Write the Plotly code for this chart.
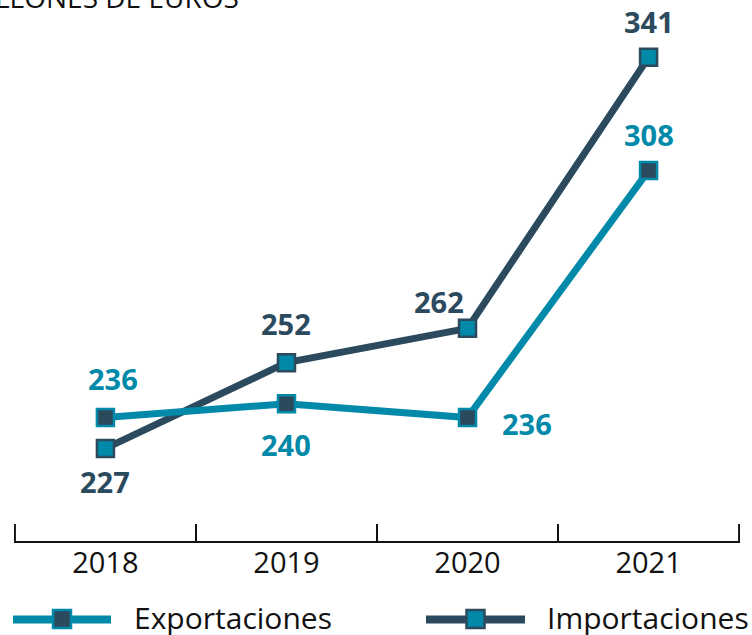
import plotly.graph_objects as go

years = ["2018", "2019", "2020", "2021"]
exportaciones = [236, 240, 236, 308]
importaciones = [227, 252, 262, 341]

TEAL = "#0089A8"
DARK = "#2C4A5E"
FONT = "Open Sans"

# label offsets (pixels) relative to each point
exp_shift = [(8, 39), (0, -41), (59, -6), (0, 36)]
imp_shift = [(0, -33), (0, 39), (-29, 27), (0, 36)]

fig = go.Figure()
fig.add_trace(go.Scatter(x=years, y=importaciones, mode="lines",
                         line=dict(color=DARK, width=7), showlegend=False, hoverinfo="skip"))
fig.add_trace(go.Scatter(x=years, y=exportaciones, mode="lines",
                         line=dict(color=TEAL, width=7), showlegend=False, hoverinfo="skip"))
fig.add_trace(go.Scatter(x=years, y=importaciones, mode="markers", name="Importaciones",
                         marker=dict(symbol="square", size=17, color=TEAL,
                                     line=dict(color=DARK, width=2.5)), showlegend=False))
fig.add_trace(go.Scatter(x=years, y=exportaciones, mode="markers", name="Exportaciones",
                         marker=dict(symbol="square", size=17, color=DARK,
                                     line=dict(color=TEAL, width=2.5)), showlegend=False))

annotations = []
for i, (v, (dx, dy)) in enumerate(zip(exportaciones, exp_shift)):
    annotations.append(dict(x=i, y=v, xref="x", yref="y", text=f"<b>{v}</b>", showarrow=False,
                            xshift=dx, yshift=dy, font=dict(family=FONT, size=29, color=TEAL)))
for i, (v, (dx, dy)) in enumerate(zip(importaciones, imp_shift)):
    annotations.append(dict(x=i, y=v, xref="x", yref="y", text=f"<b>{v}</b>", showarrow=False,
                            xshift=dx, yshift=dy, font=dict(family=FONT, size=29, color=DARK)))

# unit title (partly cut off at the top-left in the reference)
annotations.append(dict(x=(241 - 14) / 726, y=1.0, xref="paper", yref="paper",
                        xanchor="right", yanchor="bottom", yshift=2,
                        text="MILLONES DE EUROS", showarrow=False,
                        font=dict(family=FONT, size=28, color="#111111")))

# manual legend
W, H = 752, 635
L, R, T, B = 14, 12, 20, 94
pw, ph = W - L - R, H - T - B

def px(xp):
    return (xp - L) / pw

def py(yp):
    return (H - B - yp) / ph

shapes = []
# end boundary ticks (Plotly omits them at the range ends)
for xb in (-0.5, len(years) - 0.5):
    shapes.append(dict(type="line", xref="x", yref="paper", x0=xb, x1=xb, y0=0, y1=17 / ph,
                       line=dict(color="#111111", width=2)))

legend_items = [("Exportaciones", TEAL, DARK, 13, 111, 132),
                ("Importaciones", DARK, TEAL, 426, 525, 545)]
for name, lc, fc, x0, x1, tx in legend_items:
    shapes.append(dict(type="line", xref="paper", yref="paper", x0=px(x0), x1=px(x1),
                       y0=py(619.5), y1=py(619.5), line=dict(color=lc, width=8)))
    cx = (x0 + x1) / 2
    shapes.append(dict(type="rect", xref="paper", yref="paper", x0=px(cx - 9), x1=px(cx + 9),
                       y0=py(610), y1=py(628), fillcolor=fc, line=dict(color=lc, width=2.5)))
    annotations.append(dict(x=px(tx), y=py(618), xref="paper", yref="paper", xanchor="left",
                            yanchor="middle", text=name, showarrow=False,
                            font=dict(family=FONT, size=30, color="#111111")))

fig.update_layout(
    width=W, height=H,
    margin=dict(l=L, r=R, t=T, b=B),
    paper_bgcolor="white", plot_bgcolor="white",
    showlegend=False,
    annotations=annotations,
    shapes=shapes,
    xaxis=dict(type="category", range=[-0.505, 3.505], showline=True, linecolor="#111111", linewidth=2,
               ticks="inside", tickson="boundaries", ticklen=17, tickwidth=2, tickcolor="#111111",
               showgrid=False, zeroline=False, ticklabelstandoff=-5,
               tickfont=dict(family=FONT, size=29, color="#111111")),
    yaxis=dict(range=[200, 200 + ph / 3.43], visible=False, showgrid=False, zeroline=False),
)

fig.write_html("out.html", config={"displayModeBar": False},
               post_script="document.body.style.margin='0';document.body.style.overflow='hidden';")
